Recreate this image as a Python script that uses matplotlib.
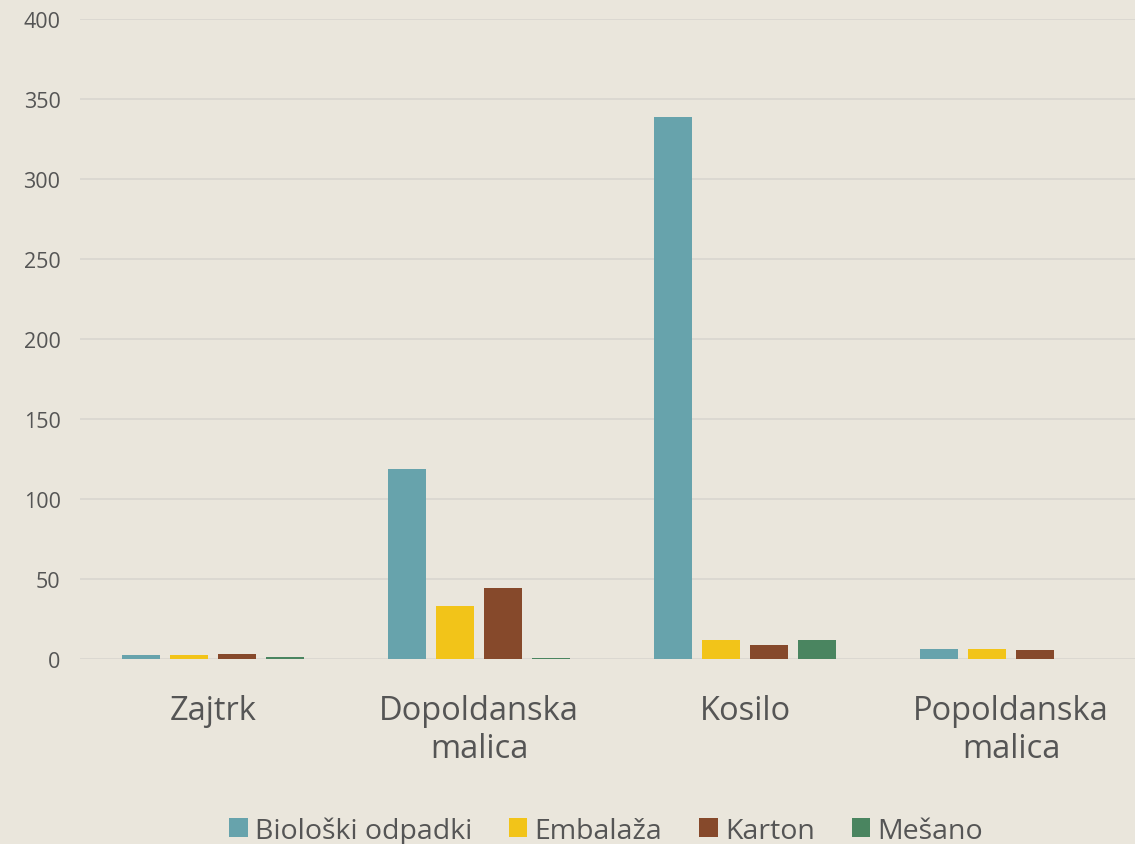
import matplotlib
matplotlib.use("Agg")
import matplotlib.pyplot as plt
import numpy as np

categories = ["Zajtrk", "Dopoldanska\nmalica", "Kosilo", "Popoldanska\nmalica"]
series_names = ["Biološki odpadki", "Embalaža", "Karton", "Mešano"]
bioloski = [2.5, 119, 339, 6]
embalaza = [2.5, 33, 12, 6]
karton = [3, 44.5, 9, 5.5]
mesano = [1.5, 0.5, 12, 0]
colors = ["#67A3AC", "#F2C419", "#86492B", "#4A8560"]
yticks = [0, 50, 100, 150, 200, 250, 300, 350, 400]

plt.rcParams['font.family'] = ['Open Sans', 'DejaVu Sans']
bg = "#EAE6DC"
fig = plt.figure(figsize=(11.35, 8.45), dpi=100, facecolor=bg)
ax = fig.add_axes([80/1135, (845-660)/845, (1144-80)/1135, (660-20)/845], facecolor=bg)

x = np.arange(len(categories))
w = 0.143
step = 0.181
data = [bioloski, embalaza, karton, mesano]
for i, (vals, name, c) in enumerate(zip(data, series_names, colors)):
    ax.bar(x + (i - 1.5) * step, vals, width=w, color=c, label=name, zorder=3)

ax.set_xlim(-0.5, 3.5)
ax.set_ylim(0, 400)
ax.set_yticks(yticks)
ax.set_yticklabels([str(t) for t in yticks], fontsize=15.5, color="#555555")
ax.yaxis.grid(True, color="#DAD7D0", linewidth=1.3, zorder=0)
ax.set_xticks(x)
ax.set_xticklabels(categories, fontsize=23.5, color="#555555", linespacing=1.2)
ax.tick_params(axis="both", length=0)
ax.tick_params(axis="y", pad=14)
ax.tick_params(axis="x", pad=25)
for s in ax.spines.values():
    s.set_visible(False)

leg = fig.legend(loc="lower center", bbox_to_anchor=(0.534, -0.031), ncol=4, frameon=False,
                 fontsize=20.5, handlelength=0.65, handleheight=0.65, handletextpad=0.25,
                 columnspacing=1.3, labelcolor="#555555")
fig.savefig("out.png", dpi=100, facecolor=bg)
